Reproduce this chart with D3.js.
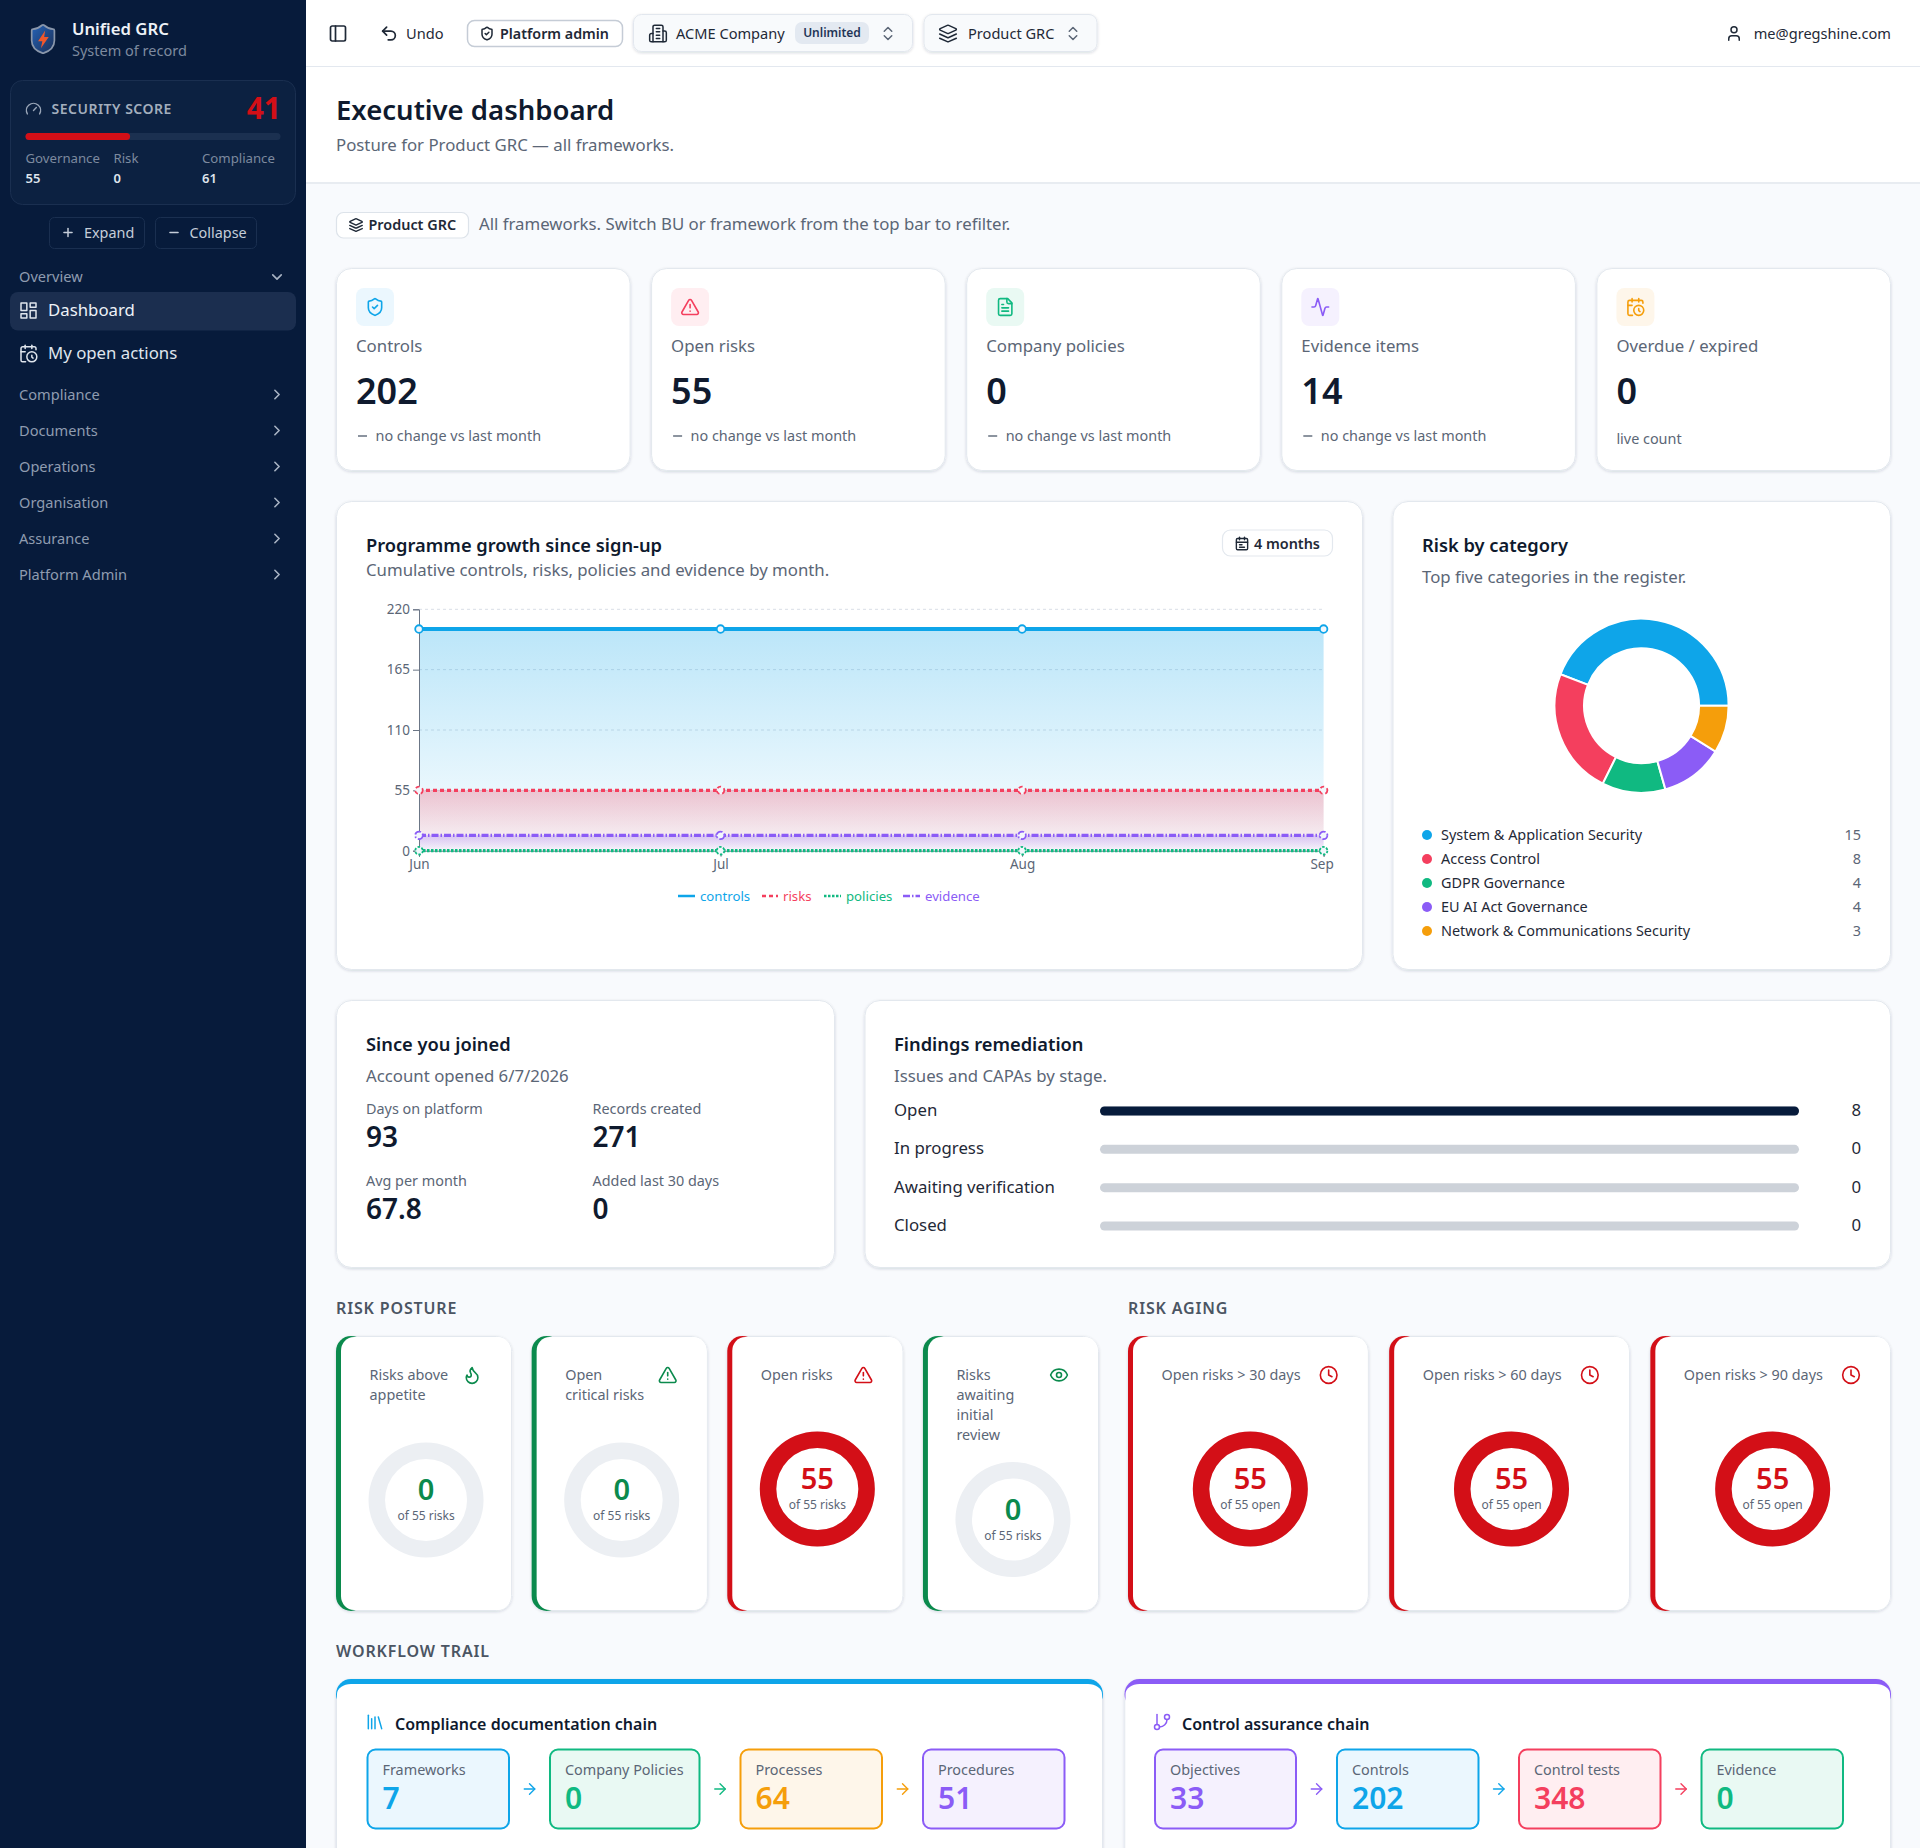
<!DOCTYPE html>
<html>
<head>
<meta charset="utf-8">
<title>Executive dashboard</title>
<script src="https://cdn.jsdelivr.net/npm/d3@7"></script>
<style>
	html, body { margin: 0; padding: 0; background: #f8fafd; }
	svg { display: block; font-family: "Noto Sans", sans-serif; }
</style>
</head>
<body>
<svg id="page" width="1920" height="1848" viewBox="0 0 1920 1848"></svg>
<script>
// chart data
var months = ["Jun", "Jul", "Aug", "Sep"];
var controls = [202, 202, 202, 202];
var risks = [55, 55, 55, 55];
var policies = [0, 0, 0, 0];
var evidence = [14, 14, 14, 14];
var yTicks = [0, 55, 110, 165, 220];

var categories = ["System & Application Security", "Access Control", "GDPR Governance", "EU AI Act Governance", "Network & Communications Security"];
var categoryCounts = [15, 8, 4, 4, 3];

var kpiLabels = ["Controls", "Open risks", "Company policies", "Evidence items", "Overdue / expired"];
var kpiValues = [202, 55, 0, 14, 0];
var kpiNotes = ["no change vs last month", "no change vs last month", "no change vs last month", "no change vs last month", "live count"];

var joinedLabels = ["Days on platform", "Records created", "Avg per month", "Added last 30 days"];
var joinedValues = ["93", "271", "67.8", "0"];

var findingStages = ["Open", "In progress", "Awaiting verification", "Closed"];
var findingCounts = [8, 0, 0, 0];

var postureLabels = [["Risks above", "appetite"], ["Open", "critical risks"], ["Open risks"], ["Risks", "awaiting", "initial", "review"]];
var postureValues = [0, 0, 55, 0];
var postureTotal = 55;
var agingLabels = ["Open risks > 30 days", "Open risks > 60 days", "Open risks > 90 days"];
var agingValues = [55, 55, 55];
var agingTotal = 55;

var docChainLabels = ["Frameworks", "Company Policies", "Processes", "Procedures"];
var docChainValues = [7, 0, 64, 51];
var assuranceLabels = ["Objectives", "Controls", "Control tests", "Evidence"];
var assuranceValues = [33, 202, 348, 0];

var navItems = ["Compliance", "Documents", "Operations", "Organisation", "Assurance", "Platform Admin"];
var scoreLabels = ["Governance", "Risk", "Compliance"];
var scoreValues = [55, 0, 61];
var securityScore = 41;

// colours
var sky = "#0ea5e9", rose = "#f43f5e", emerald = "#10b981", violet = "#8b5cf6", amber = "#f59e0b";
var navy = "#071b3b", ink = "#0f1a2e", grey = "#5b6676", danger = "#d30f17", good = "#0b8a4d";
var tint = {};
tint[sky] = "#ebf7fe"; tint[rose] = "#ffeef1"; tint[emerald] = "#e9f9f3"; tint[violet] = "#f5f1fe"; tint[amber] = "#fef6ea";

// lucide style icons, 24 unit box
var icons = {
	shield: ["M20 13c0 5-3.5 7.5-7.66 8.95a1 1 0 0 1-.67-.01C7.5 20.5 4 18 4 13V6a1 1 0 0 1 1-1c2 0 4.5-1.2 6.24-2.72a1.17 1.17 0 0 1 1.52 0C14.51 3.81 17 5 19 5a1 1 0 0 1 1 1z", "m9 12 2 2 4-4"],
	alert: ["m21.73 18-8-14a2 2 0 0 0-3.48 0l-8 14A2 2 0 0 0 4 21h16a2 2 0 0 0 1.73-3", "M12 9v4", "M12 17h.01"],
	file: ["M15 2H6a2 2 0 0 0-2 2v16a2 2 0 0 0 2 2h12a2 2 0 0 0 2-2V7Z", "M14 2v4a2 2 0 0 0 2 2h4", "M10 9H8", "M16 13H8", "M16 17H8"],
	activity: ["M22 12h-2.48a2 2 0 0 0-1.93 1.46l-2.35 8.36a.25.25 0 0 1-.48 0L9.24 2.18a.25.25 0 0 0-.48 0l-2.35 8.36A2 2 0 0 1 4.49 12H2"],
	calClock: ["M21 7.5V6a2 2 0 0 0-2-2H5a2 2 0 0 0-2 2v14a2 2 0 0 0 2 2h3.5", "M16 2v4", "M8 2v4", "M3 10h5", "M17.5 17.5 16 16.3V14", "M22 16a6 6 0 1 1-12 0a6 6 0 1 1 12 0"],
	calendar: ["M5 4h14a2 2 0 0 1 2 2v14a2 2 0 0 1-2 2H5a2 2 0 0 1-2-2V6a2 2 0 0 1 2-2z", "M16 2v4", "M8 2v4", "M3 10h18", "M8 14h4", "M8 18h8"],
	layers: ["m12.83 2.18a2 2 0 0 0-1.66 0L2.6 6.08a1 1 0 0 0 0 1.83l8.58 3.91a2 2 0 0 0 1.66 0l8.58-3.9a1 1 0 0 0 0-1.83Z", "m22 17.65-9.17 4.16a2 2 0 0 1-1.66 0L2 17.65", "m22 12.65-9.17 4.16a2 2 0 0 1-1.66 0L2 12.65"],
	building: ["M6 22V4a2 2 0 0 1 2-2h8a2 2 0 0 1 2 2v18Z", "M6 12H4a2 2 0 0 0-2 2v6a2 2 0 0 0 2 2h2", "M18 9h2a2 2 0 0 1 2 2v9a2 2 0 0 1-2 2h-2", "M10 6h4", "M10 10h4", "M10 14h4", "M10 18h4"],
	updown: ["m7 15 5 5 5-5", "m7 9 5-5 5 5"],
	user: ["M19 21v-2a4 4 0 0 0-4-4H9a4 4 0 0 0-4 4v2", "M16 7a4 4 0 1 1-8 0a4 4 0 1 1 8 0"],
	undo: ["M9 14 4 9l5-5", "M4 9h10.5a5.5 5.5 0 0 1 5.5 5.5a5.5 5.5 0 0 1-5.5 5.5H11"],
	panel: ["M5 3h14a2 2 0 0 1 2 2v14a2 2 0 0 1-2 2H5a2 2 0 0 1-2-2V5a2 2 0 0 1 2-2z", "M9 3v18"],
	dashboard: ["M3 3h7v9H3z", "M14 3h7v5h-7z", "M14 12h7v9h-7z", "M3 16h7v5H3z"],
	gauge: ["m12 14 4-4", "M3.34 19a10 10 0 1 1 17.32 0"],
	flame: ["M8.5 14.5A2.5 2.5 0 0 0 11 12c0-1.38-.5-2-1-3-1.072-2.143-.224-4.054 2-6 .5 2.5 2 4.9 4 6.5 2 1.6 3 3.5 3 5.5a7 7 0 1 1-14 0c0-1.153.433-2.294 1-3a2.5 2.5 0 0 0 2.5 2.5z"],
	eye: ["M2.062 12.348a1 1 0 0 1 0-.696 10.75 10.75 0 0 1 19.876 0 1 1 0 0 1 0 .696 10.75 10.75 0 0 1-19.876 0", "M15 12a3 3 0 1 1-6 0a3 3 0 1 1 6 0"],
	clock: ["M22 12a10 10 0 1 1-20 0a10 10 0 1 1 20 0", "M12 6v6l4 2"],
	library: ["m16 6 4 14", "M12 6v14", "M8 8v12", "M4 4v16"],
	branch: ["M6 3v12", "M21 6a3 3 0 1 1-6 0a3 3 0 1 1 6 0", "M9 18a3 3 0 1 1-6 0a3 3 0 1 1 6 0", "M18 9a9 9 0 0 1-9 9"],
	arrow: ["M5 12h14", "m12 5 7 7-7 7"],
	plus: ["M5 12h14", "M12 5v14"],
	minus: ["M5 12h14"],
	right: ["m9 18 6-6-6-6"],
	down: ["m6 9 6 6 6-6"]
};

var svg = d3.select("#page");
var defs = svg.append("defs");

var shadow = defs.append("filter").attr("id", "shadow").attr("x", "-5%").attr("y", "-5%").attr("width", "110%").attr("height", "112%");
shadow.append("feDropShadow").attr("dx", 0).attr("dy", 1).attr("stdDeviation", 1.5).attr("flood-color", "#1e293b").attr("flood-opacity", 0.16);

function txt(g, x, y, str, o) {
	o = o || {};
	return g.append("text").attr("x", x).attr("y", y).text(str)
		.attr("font-size", o.size || 14.4)
		.attr("font-weight", o.weight || 400)
		.attr("fill", o.fill || grey)
		.attr("text-anchor", o.anchor || "start")
		.attr("letter-spacing", o.ls || null);
}

function icon(g, name, cx, cy, size, color, width) {
	var k = size / 24;
	var n = g.append("g")
		.attr("transform", "translate(" + (cx - size / 2) + "," + (cy - size / 2) + ") scale(" + k + ")")
		.attr("fill", "none").attr("stroke", color)
		.attr("stroke-width", (width || 1.6) / k)
		.attr("stroke-linecap", "round").attr("stroke-linejoin", "round");
	icons[name].forEach(function(d) { n.append("path").attr("d", d); });
}

function box(g, x, y, w, h, r, fill, stroke, sw) {
	return g.append("rect").attr("x", x).attr("y", y).attr("width", w).attr("height", h).attr("rx", r)
		.attr("fill", fill).attr("stroke", stroke || "none").attr("stroke-width", sw || 1);
}

function card(g, x, y, w, h) {
	return box(g, x + 0.5, y + 0.5, w - 1, h - 1, 15, "#fff", "#e3e8ee", 1).attr("filter", "url(#shadow)");
}

// page background and top bands
box(svg, 0, 0, 1920, 1848, 0, "#f8fafd");
box(svg, 306, 0, 1614, 183, 0, "#fff");
svg.append("line").attr("x1", 306).attr("x2", 1920).attr("y1", 66.5).attr("y2", 66.5).attr("stroke", "#e3e8ef");
box(svg, 306, 182, 1614, 2, 0, "#e8ecf1");

/* sidebar */
var side = svg.append("g");
box(side, 0, 0, 306, 1848, 0, navy);

var shieldGrad = defs.append("linearGradient").attr("id", "shieldGrad").attr("x1", 0).attr("x2", 1).attr("y1", 0).attr("y2", 1);
shieldGrad.append("stop").attr("offset", 0).attr("stop-color", "#2563b8");
shieldGrad.append("stop").attr("offset", 1).attr("stop-color", "#1b2f55");
side.append("path").attr("transform", "translate(26,22) scale(1.42)")
	.attr("d", icons.shield[0]).attr("fill", "url(#shieldGrad)").attr("stroke", "#8a97ab").attr("stroke-width", 1.2);
side.append("path").attr("transform", "translate(26,22) scale(1.42)")
	.attr("d", "M13.5 6 8.5 13.5h3l-1 5 5.5-8h-3.2z").attr("fill", "#f0572b");

txt(side, 72, 34.5, "Unified GRC", { size: 16.7, weight: 600, fill: "#eef2f7" });
txt(side, 72, 55.5, "System of record", { size: 14.5, fill: "#7d8a9f" });

box(side, 10.5, 80.5, 285, 124, 12, "#0c2141", "#1a2f50", 1);
icon(side, "gauge", 33.5, 109, 17, "#9aa6b8", 1.4);
txt(side, 51.5, 114, "SECURITY SCORE", { size: 14, weight: 600, fill: "#a3aebd", ls: 0.5 });
txt(side, 281, 119, securityScore, { size: 30, weight: 700, fill: danger, anchor: "end" });

var xScore = d3.scaleLinear().domain([0, 100]).range([25.5, 280.5]);
box(side, xScore(0), 133, xScore(100) - xScore(0), 7, 3.5, "#1b3050");
box(side, xScore(0), 133, xScore(securityScore) - xScore(0), 7, 3.5, danger);

var scoreX = [25.5, 113.5, 202];
scoreLabels.forEach(function(d, i) {
	txt(side, scoreX[i], 163, d, { size: 13.2, fill: "#7d8a9f" });
	txt(side, scoreX[i], 182.5, scoreValues[i], { size: 13, weight: 600, fill: "#dfe5ed" });
});

box(side, 49.5, 217.5, 95, 31, 5, "none", "#1a2f50", 1);
box(side, 155.5, 217.5, 101, 31, 5, "none", "#1a2f50", 1);
icon(side, "plus", 68, 232.5, 14, "#c5cdd9", 1.5);
txt(side, 84, 238, "Expand", { size: 14.4, fill: "#c5cdd9" });
icon(side, "minus", 174, 232.5, 14, "#c5cdd9", 1.5);
txt(side, 189.5, 238, "Collapse", { size: 14.4, fill: "#c5cdd9" });

txt(side, 19, 281.5, "Overview", { size: 14.6, fill: "#8f9cb0" });
icon(side, "down", 277, 277, 17, "#a8b3c3", 1.6);
box(side, 10, 292, 286, 38.5, 8, "#1b2e4f");
icon(side, "dashboard", 28.5, 310.5, 20, "#dfe5ed", 1.5);
txt(side, 48, 316, "Dashboard", { size: 16.8, fill: "#eef2f7" });
icon(side, "calClock", 28.5, 353.5, 20, "#dfe5ed", 1.5);
txt(side, 48, 358.5, "My open actions", { size: 16.8, fill: "#dfe5ed" });

var yNav = d3.scalePoint().domain(navItems).range([394.5, 574.5]);
navItems.forEach(function(d) {
	txt(side, 19, yNav(d) + 5, d, { size: 14.6, fill: "#8f9cb0" });
	icon(side, "right", 277, yNav(d), 17, "#a8b3c3", 1.6);
});

/* top bar */
var top_ = svg.append("g");
icon(top_, "panel", 338, 33.5, 20, "#1f2937", 1.7);
icon(top_, "undo", 389, 33.5, 19, "#1f2937", 1.7);
txt(top_, 406, 38.5, "Undo", { size: 14.6, fill: "#1f2937" });

box(top_, 467.5, 20.5, 155, 26, 7, "#fff", "#c5ccd6", 1.5);
icon(top_, "shield", 487, 33.5, 15, "#1f2937", 1.5);
txt(top_, 500, 38.5, "Platform admin", { size: 14.3, weight: 600, fill: "#1f2937" });

box(top_, 633.5, 14.5, 279, 37, 8, "#f8fafc", "#e2e7ee", 1).attr("filter", "url(#shadow)");
icon(top_, "building", 658, 33.5, 20, "#1f2937", 1.5);
txt(top_, 676, 38.5, "ACME Company", { size: 14.6, fill: "#1f2937" });
box(top_, 795, 22, 74, 22, 7, "#e3e9f1");
txt(top_, 832, 37, "Unlimited", { size: 12, weight: 600, fill: "#1f3557", anchor: "middle" });
icon(top_, "updown", 888, 33.5, 18, "#5b6676", 1.5);

box(top_, 924, 14.5, 173, 37, 8, "#f8fafc", "#e2e7ee", 1).attr("filter", "url(#shadow)");
icon(top_, "layers", 948, 33.5, 20, "#1f2937", 1.5);
txt(top_, 968, 38.5, "Product GRC", { size: 14.6, fill: "#1f2937" });
icon(top_, "updown", 1073, 33.5, 18, "#5b6676", 1.5);

icon(top_, "user", 1734, 33.5, 18, "#1f2937", 1.5);
txt(top_, 1891, 38.5, "me@gregshine.com", { size: 14.6, fill: "#1f2937", anchor: "end" });

/* page head */
txt(svg, 336, 120, "Executive dashboard", { size: 27.5, weight: 600, fill: ink });
txt(svg, 336, 150.5, "Posture for Product GRC \u2014 all frameworks.", { size: 16.8 });

box(svg, 336.5, 212.5, 132, 25.5, 7, "#fff", "#dde3ea", 1.2);
icon(svg, "layers", 356, 225, 15, "#1f2937", 1.4);
txt(svg, 368.5, 230, "Product GRC", { size: 14.4, weight: 600, fill: "#1f2937" });
txt(svg, 479, 230, "All frameworks. Switch BU or framework from the top bar to refilter.", { size: 16.8 });

/* kpi cards */
var kpiColors = [sky, rose, emerald, violet, amber];
var kpiIcons = ["shield", "alert", "file", "activity", "calClock"];
var xKpi = d3.scaleBand().domain(kpiLabels).range([336, 1890.5]).paddingInner(0.0667).paddingOuter(0);
kpiLabels.forEach(function(d, i) {
	var x = xKpi(d), g = svg.append("g");
	card(g, x, 268, xKpi.bandwidth() + 0.5, 203);
	box(g, x + 20, 288, 38, 38, 8, tint[kpiColors[i]]);
	icon(g, kpiIcons[i], x + 39, 307, 20, kpiColors[i], 1.6);
	txt(g, x + 20, 352, d, { size: 16.8 });
	txt(g, x + 20, 404, kpiValues[i], { size: 36, weight: 600, fill: ink });
	if (kpiNotes[i] == "live count") {
		txt(g, x + 20, 444, kpiNotes[i]);
	} else {
		g.append("line").attr("x1", x + 22).attr("x2", x + 31).attr("y1", 436).attr("y2", 436).attr("stroke", grey).attr("stroke-width", 1.4);
		txt(g, x + 39.5, 441, kpiNotes[i]);
	}
});

/* programme growth chart */
var growth = svg.append("g");
card(growth, 336, 501, 1027, 469);
txt(growth, 366, 551.5, "Programme growth since sign-up", { size: 18.3, weight: 600, fill: ink });
txt(growth, 366, 576, "Cumulative controls, risks, policies and evidence by month.", { size: 16.8 });
box(growth, 1222.5, 530, 110, 26, 8, "#fff", "#e3e8ee", 1.2);
icon(growth, "calendar", 1242, 543.5, 15, "#1f2937", 1.4);
txt(growth, 1254, 548.5, "4 months", { size: 14.4, weight: 600, fill: "#1f2937" });

var x = d3.scalePoint().domain(months).range([419, 1323.6]);
var y = d3.scaleLinear().domain([0, 220]).range([850.7, 609.3]);

growth.append("g").selectAll("line").data(yTicks.filter(function(d) { return d > 0; })).enter().append("line")
	.attr("x1", 419).attr("x2", 1323.6)
	.attr("y1", function(d) { return y(d); }).attr("y2", function(d) { return y(d); })
	.attr("stroke", "#d9dee6").attr("stroke-dasharray", "3 3");

var series = [
	{ name: "controls", values: controls, color: sky, dash: null, width: 4 },
	{ name: "risks", values: risks, color: rose, dash: "4 3", width: 3.4 },
	{ name: "policies", values: policies, color: emerald, dash: "2.5 1.5", width: 3.2 },
	{ name: "evidence", values: evidence, color: violet, dash: "7 2 1.5 2", width: 3.4 }
];

var areaGen = d3.area().x(function(d, i) { return x(months[i]); }).y0(y(0)).y1(function(d) { return y(d); });
var lineGen = d3.line().x(function(d, i) { return x(months[i]); }).y(function(d) { return y(d); });

series.forEach(function(s) {
	if (d3.max(s.values) > 0) {
		var grad = defs.append("linearGradient").attr("id", "fill-" + s.name).attr("x1", 0).attr("x2", 0).attr("y1", 0).attr("y2", 1);
		grad.append("stop").attr("offset", 0).attr("stop-color", s.color).attr("stop-opacity", 0.28);
		grad.append("stop").attr("offset", 1).attr("stop-color", s.color).attr("stop-opacity", 0.02);
		growth.append("path").datum(s.values).attr("d", areaGen).attr("fill", "url(#fill-" + s.name + ")");
	}
});

var axisFill = "#6b7686";
var yAxis = growth.append("g").attr("transform", "translate(419,0)")
	.call(d3.axisLeft(y).tickValues(yTicks).tickSize(6).tickPadding(3));
var xAxis = growth.append("g").attr("transform", "translate(0,850.7)")
	.call(d3.axisBottom(x).tickSize(6).tickPadding(3));
[yAxis, xAxis].forEach(function(a) {
	a.attr("font-family", null);
	a.selectAll("text").attr("font-size", 13.5).attr("fill", grey);
	a.selectAll("line").attr("stroke", axisFill);
	a.select(".domain").attr("stroke", axisFill);
});
xAxis.selectAll("text").filter(function(d) { return d == "Sep"; }).attr("dx", -2);

series.forEach(function(s) {
	growth.append("path").datum(s.values).attr("d", lineGen)
		.attr("fill", "none").attr("stroke", s.color).attr("stroke-width", s.width).attr("stroke-dasharray", s.dash);
	growth.append("g").selectAll("circle").data(s.values).enter().append("circle")
		.attr("cx", function(d, i) { return x(months[i]); })
		.attr("cy", function(d) { return y(d); })
		.attr("r", 3.8).attr("fill", "#f2f7fc").attr("stroke", s.color).attr("stroke-width", 1.8).attr("stroke-dasharray", s.dash);
});

var legendX = [[678, 695, 700], [762, 778, 783], [824, 841, 846], [903, 920, 925]];
series.forEach(function(s, i) {
	growth.append("line").attr("x1", legendX[i][0]).attr("x2", legendX[i][1]).attr("y1", 896).attr("y2", 896)
		.attr("stroke", s.color).attr("stroke-width", 2.5).attr("stroke-dasharray", s.dash);
	txt(growth, legendX[i][2], 900.5, s.name, { size: 13.2, fill: s.color });
});

/* risk by category donut */
var riskCard = svg.append("g");
card(riskCard, 1392.5, 501, 498.5, 469);
txt(riskCard, 1422, 551.5, "Risk by category", { size: 18.3, weight: 600, fill: ink });
txt(riskCard, 1422, 583, "Top five categories in the register.", { size: 16.8 });

var catColors = [sky, rose, emerald, violet, amber];
var pie = d3.pie().sort(null).startAngle(Math.PI / 2).endAngle(Math.PI / 2 - 2 * Math.PI);
var arc = d3.arc().innerRadius(57.5).outerRadius(87);
riskCard.append("g").attr("transform", "translate(1641.6,705.7)")
	.selectAll("path").data(pie(categoryCounts)).enter().append("path")
	.attr("d", arc)
	.attr("fill", function(d, i) { return catColors[i]; })
	.attr("stroke", "#fff").attr("stroke-width", 2);

var yCat = d3.scalePoint().domain(categories).range([835, 931]);
categories.forEach(function(d, i) {
	riskCard.append("circle").attr("cx", 1427).attr("cy", yCat(d)).attr("r", 5).attr("fill", catColors[i]);
	txt(riskCard, 1441, yCat(d) + 5, d, { size: 14.45, fill: "#1f2937" });
	txt(riskCard, 1861, yCat(d) + 5, categoryCounts[i], { size: 14.45, anchor: "end" });
});

/* since you joined */
var joined = svg.append("g");
card(joined, 336, 1000, 499, 268);
txt(joined, 366, 1051, "Since you joined", { size: 18.3, weight: 600, fill: ink });
txt(joined, 366, 1082, "Account opened 6/7/2026", { size: 16.8 });
joinedLabels.forEach(function(d, i) {
	var jx = i % 2 == 0 ? 366 : 592.5, row = Math.floor(i / 2);
	txt(joined, jx, 1114 + row * 72, d);
	txt(joined, jx, 1147 + row * 72, joinedValues[i], { size: 28, weight: 600, fill: ink });
});

/* findings remediation */
var findings = svg.append("g");
card(findings, 864.5, 1000, 1026.5, 268);
txt(findings, 894, 1051, "Findings remediation", { size: 18.3, weight: 600, fill: ink });
txt(findings, 894, 1082, "Issues and CAPAs by stage.", { size: 16.8 });
var yFind = d3.scalePoint().domain(findingStages).range([1110.5, 1225.5]);
var xFind = d3.scaleLinear().domain([0, d3.max(findingCounts)]).range([1100, 1799]);
findingStages.forEach(function(d, i) {
	txt(findings, 894, yFind(d) + 5.5, d, { size: 16.8, fill: "#1f2937" });
	box(findings, xFind(0), yFind(d) - 4, xFind.range()[1] - xFind(0), 9, 4.5, "#cdd2d9");
	if (findingCounts[i] > 0) box(findings, xFind(0), yFind(d) - 4, xFind(findingCounts[i]) - xFind(0), 9, 4.5, navy);
	txt(findings, 1861, yFind(d) + 5.5, findingCounts[i], { size: 16.8, fill: "#1f2937", anchor: "end" });
});

/* ring cards */
function ringCard(px, w, lines, value, total, unit, iconName) {
	var g = svg.append("g");
	var color = value > 0 ? danger : good;
	var cTop = 1336, cH = 275;
	card(g, px, cTop, w, cH);
	box(g, px, cTop, 30, cH, 15, color);
	g.append("rect").attr("x", px + 5).attr("y", cTop + 1).attr("width", w - 6).attr("height", cH - 2)
		.attr("rx", 13).attr("ry", 14).attr("fill", "#fff");

	var ly = [1379.5, 1400, 1419.5, 1440];
	lines.forEach(function(t, i) { txt(g, px + 33.5, ly[i], t); });
	icon(g, iconName, px + w - 40, 1375, 20, color, 1.6);

	var cx = px + (w + 4) / 2;
	var cy = lines.length == 4 ? 1519.5 : (value > 0 ? 1489 : 1500);
	var angle = d3.scaleLinear().domain([0, total]).range([0, 2 * Math.PI]);
	var ring = d3.arc().innerRadius(41).outerRadius(57.5).startAngle(0);
	var r = g.append("g").attr("transform", "translate(" + cx + "," + cy + ")");
	r.append("path").attr("d", ring({ endAngle: 2 * Math.PI })).attr("fill", "#eceff3");
	if (value > 0) r.append("path").attr("d", ring({ endAngle: angle(value) })).attr("fill", color);
	txt(r, 0, 0, value, { size: 29, weight: 600, fill: color, anchor: "middle" });
	txt(r, 0, 20, "of " + total + " " + unit, { size: 12, anchor: "middle" });
}

txt(svg, 336, 1314, "RISK POSTURE", { size: 16, weight: 600, fill: "#4b5563", ls: 0.85 });
txt(svg, 1128, 1314, "RISK AGING", { size: 16, weight: 600, fill: "#4b5563", ls: 0.85 });

var xPosture = d3.scaleBand().domain(d3.range(postureLabels.length)).range([336, 1099]).paddingInner(0.1).paddingOuter(0);
var postureIcons = ["flame", "alert", "alert", "eye"];
postureLabels.forEach(function(d, i) {
	ringCard(xPosture(i), xPosture.bandwidth(), d, postureValues[i], postureTotal, "risks", postureIcons[i]);
});

var xAging = d3.scaleBand().domain(agingLabels).range([1128, 1891]).paddingInner(0.0785).paddingOuter(0);
agingLabels.forEach(function(d, i) {
	ringCard(xAging(d), xAging.bandwidth(), [d], agingValues[i], agingTotal, "open", "clock");
});

/* workflow trail */
txt(svg, 336, 1657, "WORKFLOW TRAIL", { size: 16, weight: 600, fill: "#4b5563", ls: 0.85 });

function chain(px, w, color, title, iconName, iconX, titleX, labels, values, colors, edges) {
	var g = svg.append("g");
	card(g, px, 1679, w, 220);
	box(g, px, 1679, w, 30, 15, color);
	g.append("rect").attr("x", px + 1).attr("y", 1684).attr("width", w - 2).attr("height", 200)
		.attr("rx", 14).attr("ry", 10).attr("fill", "#fff");
	icon(g, iconName, iconX, 1722, 20, color, 1.5);
	txt(g, titleX, 1730, title, { size: 16, weight: 600, fill: ink });
	labels.forEach(function(d, i) {
		var e = edges[i], c = colors[i];
		box(g, e[0], 1749.5, e[1] - e[0], 79, 8, tint[c], c, 2);
		txt(g, e[0] + 15, 1775, d);
		txt(g, e[0] + 15, 1809, values[i], { size: 30, weight: 600, fill: c });
		if (i < labels.length - 1) {
			icon(g, "arrow", (e[1] + edges[i + 1][0]) / 2, 1789, 18, c, 1.4);
		}
	});
}

chain(336, 767, sky, "Compliance documentation chain", "library", 375, 395, docChainLabels, docChainValues,
	[sky, emerald, amber, violet], [[367.5, 509], [550, 699.5], [740.5, 882], [923, 1064.5]]);
chain(1124.5, 766.5, violet, "Control assurance chain", "branch", 1162, 1182, assuranceLabels, assuranceValues,
	[violet, sky, rose, emerald], [[1155, 1296], [1337, 1478.5], [1519, 1660.5], [1701.5, 1843]]);
</script>
</body>
</html>
